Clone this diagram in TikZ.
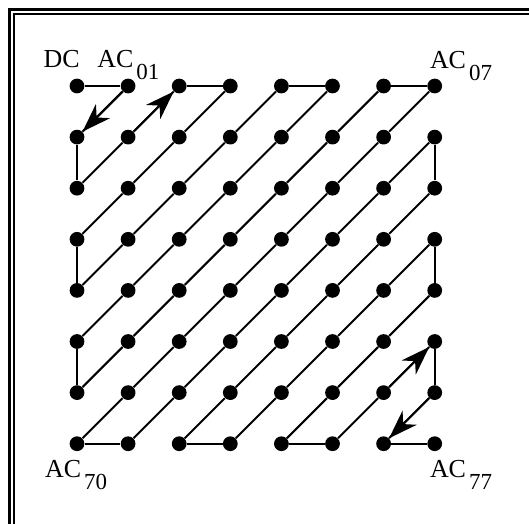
\documentclass[tikz,border=0pt]{standalone}
\usepackage{fontspec}
\setmainfont{Liberation Serif}
\usetikzlibrary{arrows.meta, positioning}
\newcommand{\coef}[1]{AC\kern1.5pt\raisebox{-6pt}{\fontsize{11.5}{13}\selectfont #1}}

\begin{document}
\begin{tikzpicture}[
    x=0.9cm, y=-0.9cm,
    dot/.style={circle, fill, inner sep=0pt, minimum size=7.4pt},
    link/.style={line width=1pt},
    arrow/.style={-{Stealth[length=14.5pt, width=10pt, inset=4.5pt]}, line width=1pt},
    lbl/.style={inner sep=0pt, font=\fontsize{13}{15}\selectfont}
]
\useasboundingbox (-1.507,-1.683) rectangle (8.845,8.571);
\draw[line width=1.35pt] (-1.317,8.571) -- (-1.317,-1.493) -- (8.845,-1.493);
\draw[line width=0.85pt] (-1.229,8.571) -- (-1.229,-1.405) -- (8.845,-1.405);

\foreach \r in {0,...,7}
  \foreach \c in {0,...,7}
    \node[dot] (d\r\c) at (\c,\r) {};

\foreach \n [remember=\n as \p (initially 00)] in {01,10,20,11,02,03,12,21,30,40,31,22,13,04,05,14,23,32,41,50,60,51,42,33,24,15,06,07,16,25,34,43,52,61,70,71,62,53,44,35,26,17,27,36,45,54,63,72,73,64,55,46,37,47,56,65,74,75,66,57,67,76,77}
  \draw[link] (d\p) -- (d\n);

\draw[arrow] (d01) -- (d10);
\draw[arrow] (d11) -- (d02);
\draw[arrow] (d66) -- (d57);
\draw[arrow] (d67) -- (d76);

\node[lbl, anchor=base east] (dc) at ([shift={(0.06,-0.37)}]d00.center) {DC};
\node[lbl, anchor=base west] (ac01) at ([shift={(-0.61,-0.37)}]d01.center) {\coef{01}};
\node[lbl, anchor=base west] (ac07) at ([shift={(-0.1,-0.35)}]d07.center) {\coef{07}};
\node[lbl, anchor=base west] (ac70) at ([shift={(-0.63,0.665)}]d70.center) {\coef{70}};
\node[lbl, anchor=base west] (ac77) at ([shift={(-0.1,0.665)}]d77.center) {\coef{77}};
\end{tikzpicture}
\end{document}
